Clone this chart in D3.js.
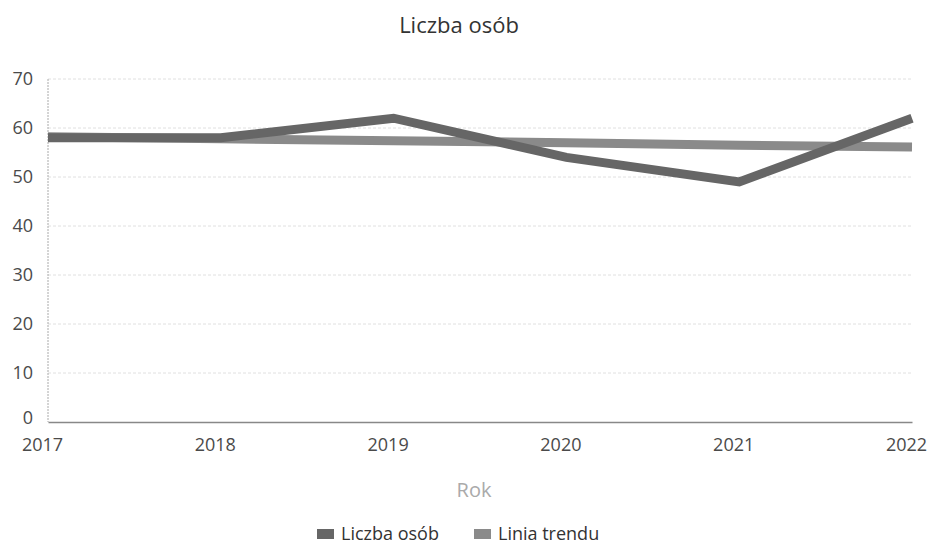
<!DOCTYPE html>
<html><head><meta charset="utf-8">
<script src="https://cdn.jsdelivr.net/npm/d3@7"></script>
<style>body{margin:0;background:#fff;font-family:"Open Sans",sans-serif}</style>
</head><body>
<svg id="c" width="934" height="546"></svg>
<script>
const years = ["2017","2018","2019","2020","2021","2022"];
const liczbaOsob = [58, 58, 62, 54, 49, 62];
const liniaTrendu = [58.2, 57.8, 57.4, 57.0, 56.5, 56.1];
const yTicks = [0,10,20,30,40,50,60,70];
const seriesNames = ["Liczba osób","Linia trendu"];
const seriesColors = ["#666666","#8a8a8a"];

const svg = d3.select("#c");
const m = {left:48, right:912, top:79, bottom:422};
const x = d3.scalePoint().domain(years).range([m.left, m.right]);
const y = d3.scaleLinear().domain([0,70]).range([m.bottom, m.top]);

// gridlines
svg.append("g").selectAll("line").data(yTicks.filter(d=>d>0)).join("line")
  .attr("x1", m.left).attr("x2", m.right)
  .attr("y1", d=>y(d)).attr("y2", d=>y(d))
  .attr("stroke","#e0e0e0").attr("stroke-width",1).attr("stroke-dasharray","3,2");
// y axis line
svg.append("line").attr("x1",m.left).attr("x2",m.left).attr("y1",m.top).attr("y2",m.bottom)
  .attr("stroke","#aaa").attr("stroke-dasharray","2,1");

// y axis
const yAxis = d3.axisLeft(y).tickValues(yTicks).tickSize(0).tickPadding(15);
const gy = svg.append("g").attr("transform",`translate(${m.left},0)`).call(yAxis);
gy.select(".domain").remove();
gy.selectAll("text").attr("font-family","Open Sans").attr("font-size",18).attr("fill","#4a4a4a")
  .attr("dy", d => d === 0 ? "0.1em" : "0.32em");

// x axis
const xAxis = d3.axisBottom(x).tickSize(0).tickPadding(16);
const gx = svg.append("g").attr("transform",`translate(0,${m.bottom})`).call(xAxis);
gx.select(".domain").attr("stroke","#888").attr("stroke-width",1.5);
gx.selectAll("text").attr("font-family","Open Sans").attr("font-size",18).attr("fill","#4a4a4a")
  .attr("dx",-6);

// lines
const line = d3.line().x((d,i)=>x(years[i])).y(d=>y(d));
svg.append("path").datum(liniaTrendu).attr("d",line).attr("fill","none")
  .attr("stroke",seriesColors[1]).attr("stroke-width",9);
svg.append("path").datum(liczbaOsob).attr("d",line).attr("fill","none")
  .attr("stroke",seriesColors[0]).attr("stroke-width",9).attr("stroke-linejoin","miter");

// title
svg.append("text").attr("x",459).attr("y",33).attr("text-anchor","middle")
  .attr("font-family","Open Sans").attr("font-size",22).attr("fill","#333").text("Liczba osób");
// axis title
svg.append("text").attr("x",474).attr("y",497).attr("text-anchor","middle")
  .attr("font-family","Open Sans").attr("font-size",20).attr("fill","#aaa").text("Rok");

// legend
const lg = svg.append("g");
const legX = [317, 474];
seriesNames.forEach((n,i)=>{
  lg.append("rect").attr("x",legX[i]).attr("y",529).attr("width",17).attr("height",10).attr("fill",seriesColors[i]);
  lg.append("text").attr("x",legX[i]+24).attr("y",540).attr("font-family","Open Sans")
    .attr("font-size",18).attr("fill","#333").text(n);
});
</script>
</body></html>
